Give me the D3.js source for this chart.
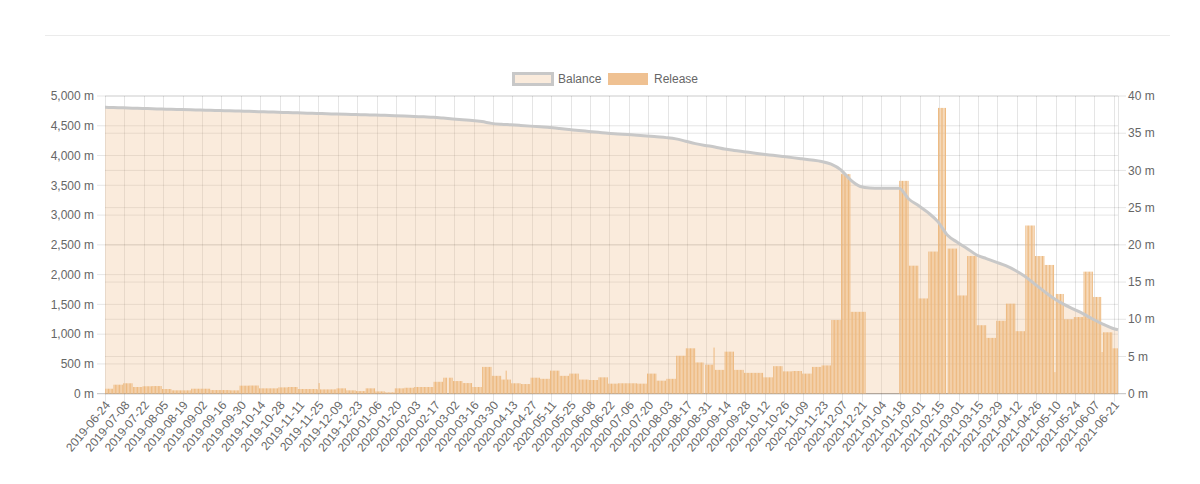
<!DOCTYPE html>
<html>
<head>
<meta charset="utf-8">
<script src="https://cdn.jsdelivr.net/npm/d3@7"></script>
<style>
  body { margin: 0; background: #fff; }
  text { font-family: "Liberation Sans", Arial, sans-serif; }
</style>
</head>
<body>
<div id="chart"></div>
<script>
// first day shown and the (exclusive) day after the last one
const firstDay = "2019-06-24";
const endDay = "2021-06-24";

// release per day (m), one value per week (weeks run Sunday..Saturday, first one is partial)
const weeklyRelease = [
  0.67, 1.21, 1.4, 0.9, 1.0, 1.03, 0.63, 0.45, 0.45, 0.67,
  0.67, 0.49, 0.49, 0.45, 1.08, 1.1, 0.72, 0.72, 0.85, 0.9,
  0.63, 0.63, 0.58, 0.58, 0.72, 0.45, 0.35, 0.72, 0.31, 0.18,
  0.72, 0.8, 0.9, 0.9, 1.6, 2.15, 1.7, 1.43, 0.9, 3.6,
  2.4, 1.9, 1.4, 1.3, 2.15, 2.0, 3.1, 2.4, 2.7, 1.9,
  1.84, 2.2, 1.35, 1.4, 1.4, 1.35, 2.7, 1.75, 2.0, 5.1,
  6.1, 4.2, 3.9, 3.2, 5.65, 3.2, 2.8, 2.8, 2.2, 3.7,
  3.0, 3.05, 2.7, 3.6, 3.8, 9.9, 29.5, 11.0, 11.0, 0,
  0, 0, 28.6, 17.2, 12.8, 19.1, 38.4, 19.5, 13.2, 18.5,
  9.2, 7.5, 9.8, 12.1, 8.4, 22.6, 18.5, 17.3, 13.4, 10.0,
  10.3, 16.4, 13.0, 8.25, 6.1
];

// single days that differ from their week
const oddDays = ["2019-11-25", "2020-02-26", "2020-04-08", "2020-08-29", "2020-09-05",
  "2020-12-24", "2020-12-25", "2020-12-26", "2021-02-20", "2021-05-09", "2021-06-12"];
const oddValues = [1.43, 0, 3.1, 0, 6.2, 0, 0, 0, 0, 2.9, 5.6];

// balance (m) at each week boundary: first day, every Sunday, end
const balance = [
  4810, 4806, 4801, 4796, 4791, 4786, 4781, 4776, 4772, 4768,
  4764, 4760, 4756, 4752, 4747, 4742, 4737, 4732, 4727, 4722,
  4717, 4712, 4707, 4702, 4697, 4692, 4688, 4684, 4680, 4675,
  4670, 4664, 4657, 4650, 4643, 4630, 4615, 4602, 4590, 4570,
  4540, 4525, 4516, 4505, 4494, 4482, 4470, 4454, 4437, 4420,
  4405, 4390, 4374, 4363, 4352, 4341, 4329, 4315, 4301, 4280,
  4240, 4200, 4170, 4145, 4110, 4085, 4064, 4043, 4022, 4003,
  3984, 3965, 3945, 3925, 3900, 3855, 3758, 3590, 3480, 3455,
  3452, 3452, 3452, 3270, 3160, 3040, 2890, 2660, 2545, 2440,
  2330, 2270, 2210, 2150, 2070, 1970, 1840, 1715, 1595, 1500,
  1420, 1340, 1250, 1170, 1100, 1075
];

const leftTicks = [0, 500, 1000, 1500, 2000, 2500, 3000, 3500, 4000, 4500, 5000];
const rightTicks = [0, 5, 10, 15, 20, 25, 30, 35, 40];

const W = 1200, H = 484;
const plot = {left: 105, right: 1118, top: 96, bottom: 393.7};
const grid = "rgba(0,0,0,0.1)";
const labelColor = "#666";

const parse = d3.utcParse("%Y-%m-%d");
const start = parse(firstDay), end = parse(endDay);

const bounds = [start].concat(d3.utcSunday.range(d3.utcDay.offset(start, 1), end), [end]);
const days = d3.utcDay.range(start, end);
const oddMap = new Map(oddDays.map((d, i) => [+parse(d), oddValues[i]]));
const daily = days.map(d => {
  const w = d3.bisectRight(bounds, d) - 1;
  const v = oddMap.has(+d) ? oddMap.get(+d) : weeklyRelease[w];
  return {date: d, value: v};
});
const labelDates = d3.utcDay.range(start, end, 14);

const x = d3.scaleUtc().domain([start, end]).range([plot.left, plot.right]);
const yL = d3.scaleLinear().domain([0, 5000]).range([plot.bottom, plot.top]);
const yR = d3.scaleLinear().domain([0, 40]).range([plot.bottom, plot.top]);
const step = x(days[1]) - x(days[0]);

const svg = d3.select("#chart").append("svg").attr("width", W).attr("height", H);

// page separator
svg.append("line")
  .attr("x1", 45).attr("x2", 1170).attr("y1", 35.5).attr("y2", 35.5)
  .attr("stroke", "#ebebeb");

// grid
svg.append("g").selectAll("line")
  .data(labelDates)
  .join("line")
  .attr("x1", d => Math.round(x(d)) + 0.5).attr("x2", d => Math.round(x(d)) + 0.5)
  .attr("y1", plot.top).attr("y2", plot.bottom + 8)
  .attr("stroke", grid);

svg.append("g").selectAll("line")
  .data(leftTicks)
  .join("line")
  .attr("x1", plot.left - 8).attr("x2", plot.right)
  .attr("y1", d => yL(d)).attr("y2", d => yL(d))
  .attr("stroke", d => d === 0 ? "rgba(0,0,0,0.25)" : grid);

svg.append("g").selectAll("line")
  .data(rightTicks)
  .join("line")
  .attr("x1", plot.left).attr("x2", plot.right + 8)
  .attr("y1", d => yR(d)).attr("y2", d => yR(d))
  .attr("stroke", d => d === 0 ? "rgba(0,0,0,0.25)" : grid);

svg.append("line")
  .attr("x1", plot.right + 0.5).attr("x2", plot.right + 0.5)
  .attr("y1", plot.top).attr("y2", plot.bottom)
  .attr("stroke", grid);

// balance area
const balancePts = bounds.map((d, i) => ({date: d, value: balance[i]}));
svg.append("path")
  .datum(balancePts)
  .attr("fill", "rgba(240,190,140,0.3)")
  .attr("d", d3.area().curve(d3.curveMonotoneX)
    .x(d => x(d.date)).y0(yL(0)).y1(d => yL(d.value)));

// release bars
svg.append("g").selectAll("rect")
  .data(daily.filter(d => d.value > 0))
  .join("rect")
  .attr("x", d => x(d.date) + step * 0.14)
  .attr("width", step * 0.72)
  .attr("y", d => yR(d.value))
  .attr("height", d => yR(0) - yR(d.value))
  .attr("fill", "#edb97f");

// balance line
svg.append("path")
  .datum(balancePts)
  .attr("fill", "none")
  .attr("stroke", "#c8c8c8")
  .attr("stroke-width", 3)
  .attr("d", d3.line().curve(d3.curveMonotoneX)
    .x(d => x(d.date)).y(d => yL(d.value)));

// axis labels
svg.append("g").selectAll("text")
  .data(leftTicks)
  .join("text")
  .attr("x", plot.left - 11).attr("y", d => yL(d))
  .attr("dy", "0.35em")
  .attr("text-anchor", "end")
  .attr("font-size", 12).attr("fill", labelColor)
  .text(d => d3.format(",")(d) + " m");

svg.append("g").selectAll("text")
  .data(rightTicks)
  .join("text")
  .attr("x", plot.right + 10).attr("y", d => yR(d))
  .attr("dy", "0.35em")
  .attr("font-size", 12).attr("fill", labelColor)
  .text(d => d + " m");

const fmt = d3.utcFormat("%Y-%m-%d");
svg.append("g").selectAll("text")
  .data(labelDates)
  .join("text")
  .attr("transform", d => "translate(" + (x(d) + step / 2 + 2) + "," + (plot.bottom + 9) + ") rotate(-50)")
  .attr("text-anchor", "end")
  .attr("dy", "0.35em")
  .attr("font-size", 12).attr("fill", labelColor)
  .text(d => fmt(d));

// legend
const legend = svg.append("g");
legend.append("rect")
  .attr("x", 513.5).attr("y", 73.5).attr("width", 39).attr("height", 11)
  .attr("fill", "#faebdc").attr("stroke", "#c8c8c8").attr("stroke-width", 3);
legend.append("text")
  .attr("x", 558).attr("y", 79).attr("dy", "0.35em")
  .attr("font-size", 12).attr("fill", labelColor).text("Balance");
legend.append("rect")
  .attr("x", 608).attr("y", 73).attr("width", 40).attr("height", 12)
  .attr("fill", "#efc192");
legend.append("text")
  .attr("x", 654).attr("y", 79).attr("dy", "0.35em")
  .attr("font-size", 12).attr("fill", labelColor).text("Release");
</script>
</body>
</html>
